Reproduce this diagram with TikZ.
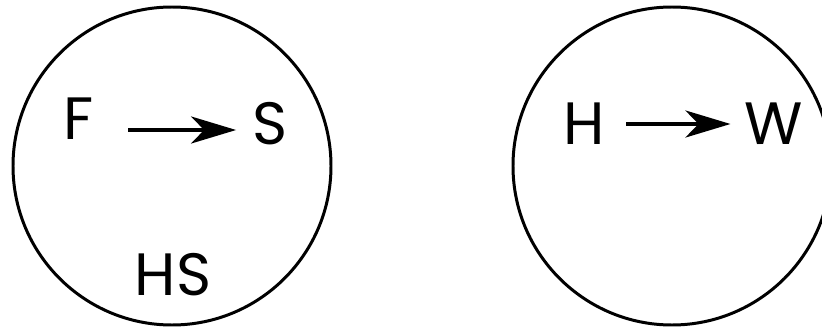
\documentclass[tikz,border=0pt]{standalone}
\usepackage{fontspec}
\setmainfont{Poppins}
\usetikzlibrary{arrows.meta}

\begin{document}
\begin{tikzpicture}[>={Stealth[length=0.9cm,width=0.54cm,inset=0.26cm]},
  ring/.style={draw,line width=1.7pt},
  letter/.style={inner sep=0pt,font=\fontsize{34}{40}\selectfont},
  link/.style={->,line width=2.3pt}]
\clip (0,0) rectangle (16.44,6.6);
% left circle
\draw[ring] (3.44,3.28) circle (3.18);
\node[letter] (F) at (1.58,4.22) {F};
\node[letter] (S) at (5.40,4.12) {S};
\node[letter] (HS) at (3.46,1.10) {HS};
\draw[link] ([xshift=0.68cm,yshift=-0.22cm]F.east) -- ([xshift=-0.32cm,yshift=-0.12cm]S.west);
% right circle
\draw[ring] (13.44,3.28) circle (3.18);
\node[letter] (H) at (11.68,4.12) {H};
\node[letter] (W) at (15.48,4.12) {W};
\draw[link,shorten <=0.42cm,shorten >=0.28cm] (H) -- (W);
\end{tikzpicture}
\end{document}
